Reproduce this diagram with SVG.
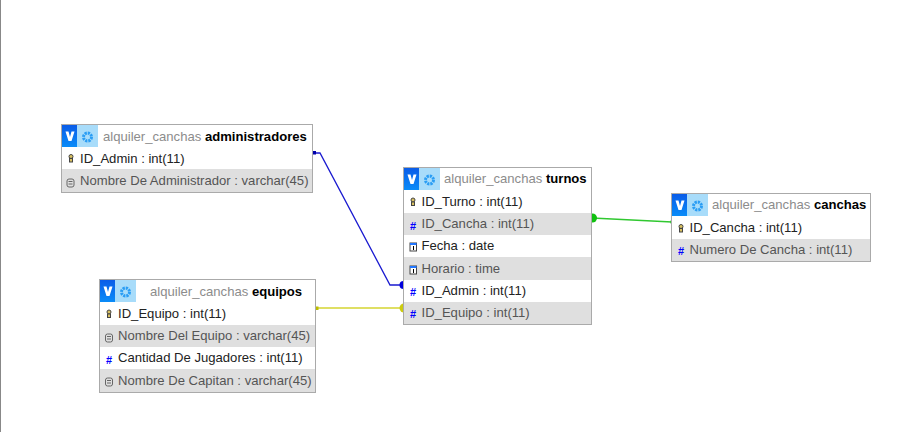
<svg xmlns="http://www.w3.org/2000/svg" width="908" height="432" viewBox="0 0 908 432">
<style>
text{font-family:"Liberation Sans",Arial,sans-serif;font-size:13.1px;fill:#000}
.box{fill:#fff;stroke:#aaa;stroke-width:1}
.alt{fill:#dfdfdf}
.r{fill:#222}
.g{fill:#555}
.db{fill:#8c8c8c}
.tb{font-weight:bold}
.hash{fill:#00f;font-family:"Liberation Sans",sans-serif;font-size:11px;font-weight:bold}
.ic{fill:none;stroke:#666;stroke-width:1}
.key{fill:#d8c060;stroke:#444;stroke-width:1}
</style>
<defs>
<linearGradient id="v" x1="0" y1="0" x2="0" y2="1"><stop offset="0" stop-color="#0a5ce8"/><stop offset="1" stop-color="#0a8cf8"/></linearGradient>
<g id="hdr">
<rect x="0" y="0" width="15" height="22" fill="url(#v)"/>
<rect x="15" y="0" width="21" height="22" fill="#a8dcfa"/>
<path d="M3.500 6.500h3l1.500 5.500 1.500-5.500h3l-3 9.500h-3z" fill="#fff"/>
<circle cx="25.500" cy="12" r="4" fill="none" stroke="#2a9df4" stroke-width="3" stroke-dasharray="2.200 .9"/>
</g>
<g id="k"><ellipse cx="0" cy="-2" rx="2" ry="2" class="key"/><rect x="-1.500" y="0" width="3" height="3.500" class="key"/></g>
<g id="d"><rect x="-3.500" y="-4" width="7" height="8" rx="2" class="ic"/><path d="M-2-1.500h4M-2 1h4" class="ic"/></g>
<g id="t"><rect x="-3" y="-4" width="6.500" height="8" fill="#fff" stroke="#444"/><rect x="-3" y="-4" width="6.500" height="2" fill="#27f"/><path d="M0.500-1v4" stroke="#000"/></g>
</defs>
<rect x="0" y="0" width="1" height="432" fill="#888"/>
<g id="connectors" fill="none" stroke-width="1.300">
<path d="M313 153H320L390 285H403" stroke="#1a1ad0"/>
<rect x="313" y="151" width="3" height="3.500" fill="#00a" stroke="none"/>
<circle cx="403.500" cy="285" r="4" fill="#00d" stroke="none"/>
<path d="M315 308H403" stroke="#d4d430"/>
<rect x="315" y="306.500" width="3.500" height="3.500" fill="#bcbc00" stroke="none"/>
<circle cx="404" cy="308" r="4.500" fill="#cccc10" stroke="none"/>
<path d="M592 218L672 222" stroke="#30c830"/>
<circle cx="592.500" cy="218" r="4.500" fill="#10c010" stroke="none"/>
<rect x="670.500" y="220.500" width="2" height="3" fill="#20b020" stroke="none"/>
</g>
<g id="administradores">
<rect class="box" x="61.500" y="124.500" width="251" height="68"/>
<rect class="alt" x="62" y="169" width="250" height="23"/>
<use href="#hdr" x="62" y="125"/>
<text x="103" y="141"><tspan class="db">alquiler_canchas</tspan> <tspan class="tb">administradores</tspan></text>
<use href="#k" x="71" y="158.500"/><text class="r" x="80" y="163">ID_Admin : int(11)</text>
<use href="#d" x="70.500" y="183"/><text class="g" x="80" y="185">Nombre De Administrador : varchar(45)</text>
</g>
<g id="equipos">
<rect class="box" x="99.500" y="279.500" width="216" height="113"/>
<rect class="alt" x="100" y="325" width="215" height="22"/>
<rect class="alt" x="100" y="369" width="215" height="23"/>
<use href="#hdr" x="100" y="280"/>
<text x="150" y="296"><tspan class="db">alquiler_canchas</tspan> <tspan class="tb">equipos</tspan></text>
<use href="#k" x="109" y="314"/><text class="r" x="118" y="318">ID_Equipo : int(11)</text>
<use href="#d" x="109" y="338"/><text class="g" x="118" y="340">Nombre Del Equipo : varchar(45)</text>
<text class="hash" x="106" y="364">#</text><text class="r" x="118" y="362">Cantidad De Jugadores : int(11)</text>
<use href="#d" x="109" y="382"/><text class="g" x="118" y="385">Nombre De Capitan : varchar(45)</text>
</g>
<g id="turnos">
<rect class="box" x="403.500" y="167.500" width="188" height="157"/>
<rect class="alt" x="404" y="213" width="187" height="22"/>
<rect class="alt" x="404" y="257" width="187" height="23"/>
<rect class="alt" x="404" y="302" width="187" height="22"/>
<use href="#hdr" x="404" y="168"/>
<text x="444" y="183"><tspan class="db">alquiler_canchas</tspan> <tspan class="tb">turnos</tspan></text>
<use href="#k" x="413" y="202"/><text class="r" x="421.500" y="206">ID_Turno : int(11)</text>
<text class="hash" x="410" y="230">#</text><text class="g" x="421.500" y="228">ID_Cancha : int(11)</text>
<use href="#t" x="413" y="247"/><text class="r" x="421.500" y="250">Fecha : date</text>
<use href="#t" x="413" y="270"/><text class="g" x="421.500" y="273">Horario : time</text>
<text class="hash" x="410" y="296">#</text><text class="r" x="421.500" y="295">ID_Admin : int(11)</text>
<text class="hash" x="410" y="318">#</text><text class="g" x="421.500" y="317">ID_Equipo : int(11)</text>
</g>
<g id="canchas">
<rect class="box" x="671.500" y="193.500" width="199" height="68"/>
<rect class="alt" x="672" y="239" width="198" height="22"/>
<use href="#hdr" x="672" y="194"/>
<text x="712" y="209"><tspan class="db">alquiler_canchas</tspan> <tspan class="tb">canchas</tspan></text>
<use href="#k" x="681" y="228.500"/><text class="r" x="689.500" y="232">ID_Cancha : int(11)</text>
<text class="hash" x="678" y="255">#</text><text class="g" x="689.500" y="254">Numero De Cancha : int(11)</text>
</g>
</svg>
